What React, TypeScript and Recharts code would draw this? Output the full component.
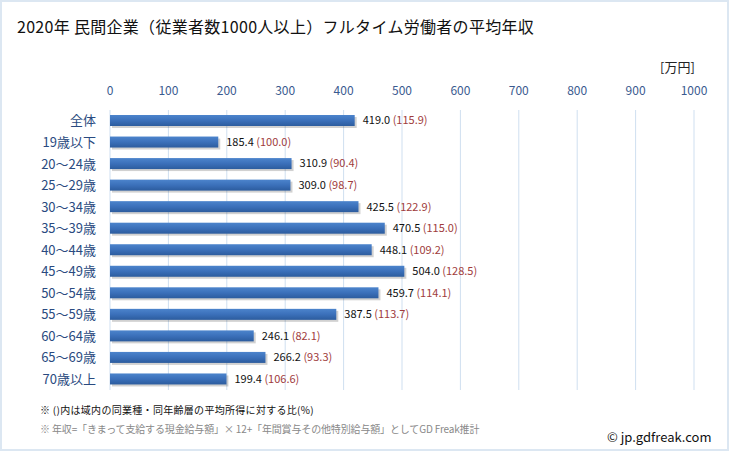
import React from "react";
import { BarChart, Bar, XAxis, YAxis, CartesianGrid, LabelList } from "recharts";

const categories = ["全体", "19歳以下", "20～24歳", "25～29歳", "30～34歳", "35～39歳", "40～44歳", "45～49歳", "50～54歳", "55～59歳", "60～64歳", "65～69歳", "70歳以上"];
const incomes = [419.0, 185.4, 310.9, 309.0, 425.5, 470.5, 448.1, 504.0, 459.7, 387.5, 246.1, 266.2, 199.4];
const ratios = [115.9, 100.0, 90.4, 98.7, 122.9, 115.0, 109.2, 128.5, 114.1, 113.7, 82.1, 93.3, 106.6];
const xTicks = [0, 100, 200, 300, 400, 500, 600, 700, 800, 900, 1000];

const data = categories.map((c, i) => ({ name: c, value: incomes[i], ratio: ratios[i] }));

const FONT = "'Noto Sans CJK JP', 'Noto Sans', sans-serif";

const BarShape = (props: any) => {
  const { x, y, width, height } = props;
  if (width <= 0) return null;
  return (
    <g>
      <rect x={x + 2} y={y + 2} width={width} height={height} fill="#000" opacity={0.18} />
      <rect x={x} y={y} width={width} height={height} fill="url(#barGrad)" />
    </g>
  );
};

const ValueLabel = (props: any) => {
  const { x, y, width, height, index } = props;
  const v = incomes[index];
  const r = ratios[index];
  return (
    <text x={x + width + 8} y={y + height / 2} dy="0.35em" fontSize={11} fontFamily={FONT}>
      <tspan fill="#111">{v.toFixed(1)}</tspan>
      <tspan fill="#A03C3C">{` (${r.toFixed(1)})`}</tspan>
    </text>
  );
};

const YTick = (props: any) => {
  const { y, payload } = props;
  return (
    <text x={96} y={y} dy="0.36em" textAnchor="end" fontSize={13} fill="#2A4A80" fontFamily={FONT}>
      {payload.value}
    </text>
  );
};

const XTick = (props: any) => {
  const { x, payload } = props;
  return (
    <text x={x} y={91} dy="0.36em" textAnchor="middle" fontSize={12} fill="#3A5A8F" fontFamily={FONT}>
      {payload.value}
    </text>
  );
};

export default function App() {
  return (
    <div
      style={{
        position: "fixed",
        left: 0,
        top: 0,
        width: 729,
        height: 451,
        background: "#fff",
        fontFamily: FONT,
        overflow: "hidden",
      }}
    >
      <div style={{ position: "absolute", left: 0, top: 0 }}>
        <BarChart
          width={729}
          height={451}
          data={data}
          layout="vertical"
          margin={{ top: 80, right: 35, bottom: 61, left: 0 }}
          barCategoryGap={0}
        >
          <defs>
            <linearGradient id="barGrad" x1="0" y1="0" x2="0" y2="1">
              <stop offset="0%" stopColor="#4C84CC" />
              <stop offset="50%" stopColor="#3B70BA" />
              <stop offset="100%" stopColor="#2C5C9E" />
            </linearGradient>
          </defs>
          <CartesianGrid horizontal={false} vertical={true} stroke="#CFDFF0" strokeWidth={1} />
          <XAxis
            type="number"
            orientation="top"
            domain={[0, 1000]}
            ticks={xTicks}
            axisLine={false}
            tickLine={false}
            tick={<XTick />}
            interval={0}
            height={30}
          />
          <YAxis
            type="category"
            dataKey="name"
            width={110}
            axisLine={false}
            tickLine={false}
            tick={<YTick />}
            interval={0}
          />
          <Bar dataKey="value" barSize={11} shape={<BarShape />} isAnimationActive={false}>
            <LabelList dataKey="value" content={<ValueLabel />} />
          </Bar>
        </BarChart>
      </div>
      <div style={{ position: "absolute", left: 17, top: 14, fontSize: 16, letterSpacing: 0.3, color: "#111", whiteSpace: "nowrap" }}>
        2020年 民間企業（従業者数1000人以上）フルタイム労働者の平均年収
      </div>
      <div style={{ position: "absolute", left: 660, top: 57, fontSize: 13, color: "#222", whiteSpace: "nowrap" }}>
        [万円]
      </div>
      <div style={{ position: "absolute", left: 40, top: 402, fontSize: 10, letterSpacing: 0.3, color: "#111", whiteSpace: "nowrap" }}>
        ※ ()内は域内の同業種・同年齢層の平均所得に対する比(%)
      </div>
      <div style={{ position: "absolute", left: 40, top: 421, fontSize: 10, letterSpacing: -0.15, color: "#888", whiteSpace: "nowrap" }}>
        ※ 年収=「きまって支給する現金給与額」× 12+「年間賞与その他特別給与額」としてGD Freak推計
      </div>
      <div style={{ position: "absolute", left: 607, top: 427, fontSize: 13, color: "#111", whiteSpace: "nowrap" }}>
        © jp.gdfreak.com
      </div>
      <div
        style={{
          position: "absolute",
          left: 0,
          top: 0,
          width: 729,
          height: 451,
          boxSizing: "border-box",
          border: "2px solid #DCE7F2",
          pointerEvents: "none",
        }}
      />
    </div>
  );
}
